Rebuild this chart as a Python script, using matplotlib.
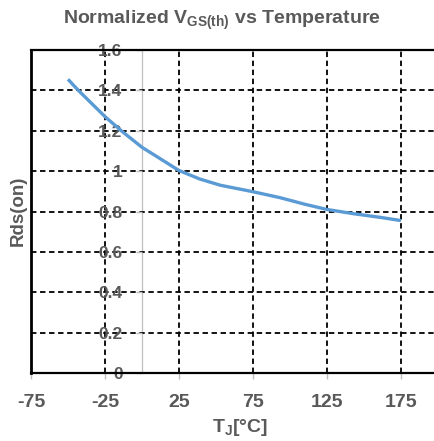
import matplotlib
matplotlib.use("Agg")
import matplotlib.pyplot as plt

plt.rcParams['font.family'] = ['Liberation Sans', 'DejaVu Sans']
plt.rcParams['font.weight'] = 'bold'
plt.rcParams['mathtext.fontset'] = 'custom'
plt.rcParams['mathtext.rm'] = 'Liberation Sans:bold'
plt.rcParams['mathtext.it'] = 'Liberation Sans:bold'
plt.rcParams['mathtext.bf'] = 'Liberation Sans:bold'
plt.rcParams['mathtext.default'] = 'rm'

# Data
temperature = [-50, -43, -25, -14, 0, 12, 25, 39, 53, 75, 93, 110, 125, 143, 161, 175]
rds_on = [1.455, 1.40, 1.27, 1.20, 1.118, 1.063, 1.003, 0.961, 0.930, 0.898,
          0.869, 0.836, 0.810, 0.789, 0.771, 0.755]
x_ticks = [-75, -25, 25, 75, 125, 175]
y_ticks = [0, 0.2, 0.4, 0.6, 0.8, 1.0, 1.2, 1.4, 1.6]
y_tick_labels = ["0", "0.2", "0.4", "0.6", "0.8", "1", "1.2", "1.4", "1.6"]

title = r"Normalized V$_{GS(th)}$ vs Temperature"
xlabel = r"T$_{J}$[°C]"
ylabel = "Rds(on)"

TEXT = '#595959'
GREY = '#BFBFBF'

W, H = 435, 441
fig = plt.figure(figsize=(W / 100, H / 100), dpi=100)
ax = fig.add_axes([31 / W, 1 - 373 / H, (W - 31) / W, (373 - 50) / H])
ax.set_xlim(-75, 198)
ax.set_ylim(0, 1.6)

# grid lines
for gx in [-25, 25, 75, 125, 175]:
    ax.axvline(gx, color='black', lw=1.3, ls=(0, (3, 2)), zorder=1)
for gy in [0.2, 0.4, 0.6, 0.8, 1.0, 1.2, 1.4]:
    ax.axhline(gy, color='black', lw=1.3, ls=(0, (3, 2)), zorder=1)

ax.plot(temperature, rds_on, color='#5B9BD5', lw=2.4, zorder=3,
        solid_capstyle='butt', solid_joinstyle='round')

# spines
ax.spines['right'].set_visible(False)
ax.spines['top'].set_color('black')
ax.spines['top'].set_linewidth(1.6)
ax.spines['bottom'].set_color('black')
ax.spines['bottom'].set_linewidth(1.6)
ax.spines['left'].set_position(('data', 0))
ax.spines['left'].set_color(GREY)
ax.spines['left'].set_linewidth(0.9)
ax.spines['left'].set_zorder(0.5)
ax.axvline(-75, color='black', lw=2.0, zorder=4, clip_on=False)

ax.set_xticks(x_ticks)
ax.set_xticklabels([str(v) for v in x_ticks])
ax.set_yticks(y_ticks)
ax.set_yticklabels(y_tick_labels)
ax.tick_params(axis='x', colors=GREY, length=4, width=1, direction='out',
               labelcolor=TEXT, labelsize=14, pad=11)
ax.tick_params(axis='y', colors=GREY, length=4, width=1, direction='out',
               labelcolor=TEXT, labelsize=12.5, pad=10)
for lab in ax.get_xticklabels() + ax.get_yticklabels():
    lab.set_fontweight('bold')
    lab.set_zorder(5)

fig.text(222 / W, 1 - 20 / H, title, ha='center', va='center',
         fontsize=14, fontweight='bold', color=TEXT)
fig.text(240 / W, 1 - 428 / H, xlabel, ha='center', va='center',
         fontsize=14, fontweight='bold', color=TEXT)
fig.text(18 / W, 1 - 211 / H, ylabel, ha='center', va='center',
         rotation=90, fontsize=13.5, fontweight='bold', color=TEXT)

fig.savefig('out.png', dpi=100)
